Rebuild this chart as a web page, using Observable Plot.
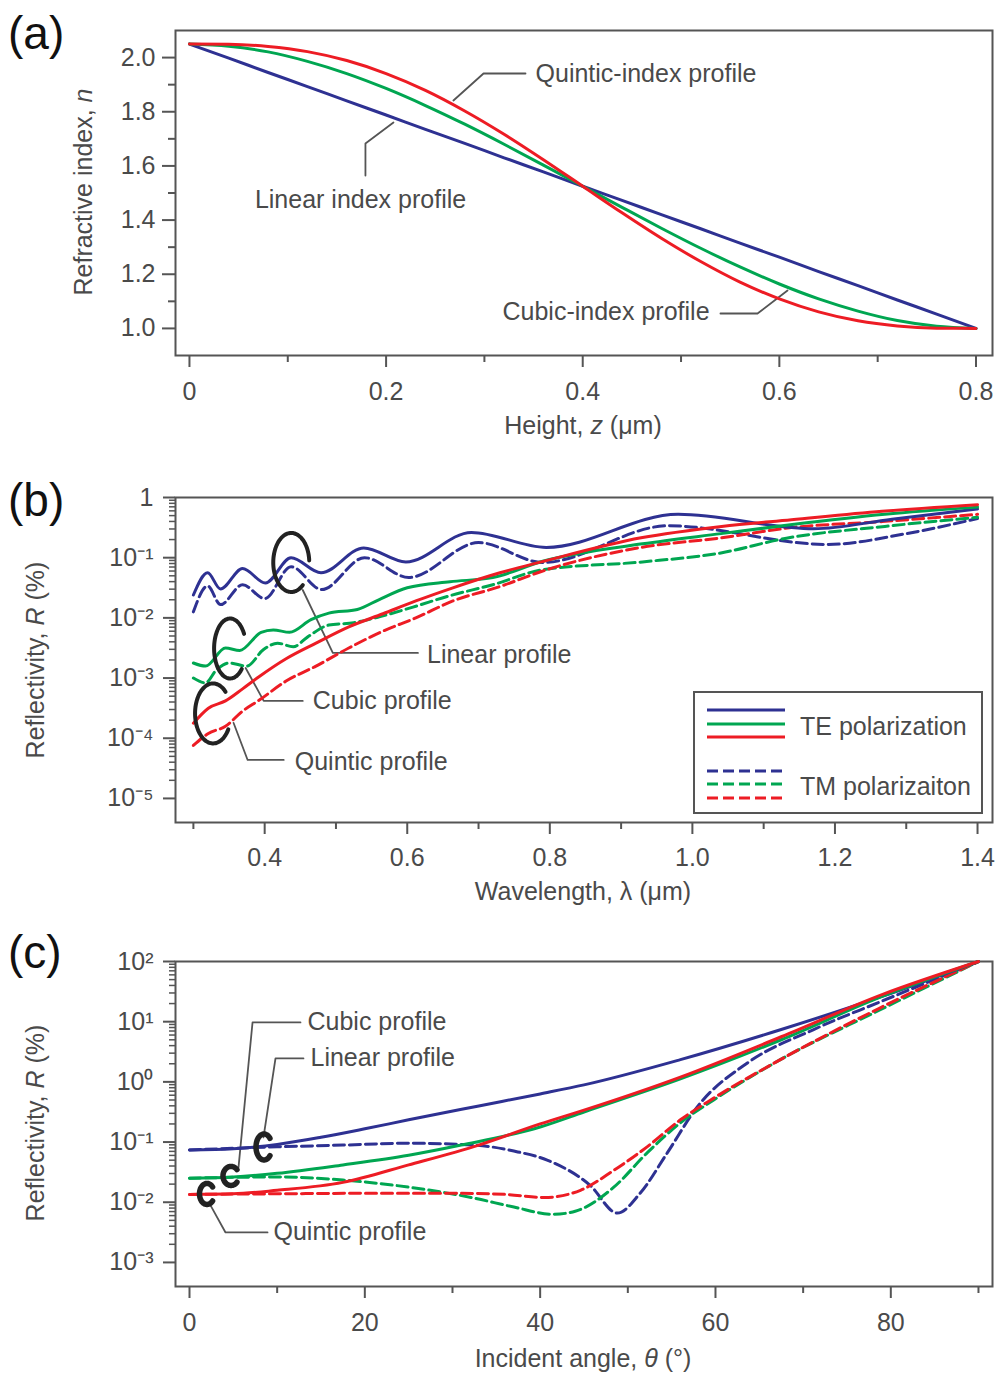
<!DOCTYPE html>
<html>
<head>
<meta charset="utf-8">
<script src="https://cdn.jsdelivr.net/npm/d3@7"></script>
<script src="https://cdn.jsdelivr.net/npm/@observablehq/plot@0.6"></script>
<style>
  body { margin: 0; background: #fff; }
  #fig { position: relative; width: 998px; height: 1376px; overflow: hidden; background: #fff; }
  #fig svg { position: absolute; left: 0; }
</style>
</head>
<body>
<div id="fig"></div>
<script>
// ---------- (a) refractive-index profiles ----------
const heightZ = [0, 0.04, 0.08, 0.12, 0.16, 0.2, 0.24, 0.28, 0.32, 0.36, 0.4,
                 0.44, 0.48, 0.52, 0.56, 0.6, 0.64, 0.68, 0.72, 0.76, 0.8];
const linearN  = [2.050, 1.998, 1.945, 1.893, 1.840, 1.788, 1.735, 1.683, 1.630, 1.578, 1.525,
                  1.473, 1.420, 1.368, 1.315, 1.263, 1.210, 1.158, 1.105, 1.053, 1.000];
const cubicN   = [2.050, 2.042, 2.021, 1.986, 1.941, 1.886, 1.823, 1.754, 1.680, 1.603, 1.525,
                  1.447, 1.370, 1.296, 1.227, 1.164, 1.109, 1.064, 1.029, 1.008, 1.000];
const quinticN = [2.050, 2.049, 2.041, 2.022, 1.989, 1.941, 1.879, 1.803, 1.717, 1.623, 1.525,
                  1.427, 1.333, 1.247, 1.171, 1.109, 1.061, 1.028, 1.009, 1.001, 1.000];
const zTicks = [0, 0.2, 0.4, 0.6, 0.8];
const zTickLabels = ["0", "0.2", "0.4", "0.6", "0.8"];
const zMinor = [0.1, 0.3, 0.5, 0.7];
const nTicks = [1.0, 1.2, 1.4, 1.6, 1.8, 2.0];
const nTickLabels = ["1.0", "1.2", "1.4", "1.6", "1.8", "2.0"];
const nMinor = [1.1, 1.3, 1.5, 1.7, 1.9];

// ---------- (b) reflectivity vs wavelength (R in %) ----------
const wlLinTE = [0.300, 0.320, 0.338, 0.369, 0.401, 0.437, 0.479, 0.539, 0.598, 0.690, 0.795, 0.980, 1.170, 1.280, 1.400];
const rLinTE  = [0.0240, 0.0562, 0.0302, 0.0661, 0.0380, 0.100, 0.0562, 0.145, 0.0851, 0.263, 0.148, 0.525, 0.302, 0.437, 0.646];
const wlLinTM = [0.300, 0.320, 0.338, 0.369, 0.400, 0.437, 0.480, 0.540, 0.602, 0.700, 0.790, 0.966, 1.190, 1.300, 1.400];
const rLinTM  = [0.0126, 0.0339, 0.0166, 0.0355, 0.0209, 0.0708, 0.0295, 0.100, 0.0468, 0.178, 0.0832, 0.339, 0.166, 0.251, 0.447];
const wlCubTE = [0.300, 0.317, 0.345, 0.365, 0.395, 0.412, 0.435, 0.465, 0.490, 0.530, 0.560, 0.600, 0.660, 0.720, 0.790, 0.930, 1.040, 1.140, 1.270, 1.400];
const rCubTE  = [0.00178, 0.00158, 0.00316, 0.00288, 0.00575, 0.00631, 0.00575, 0.00933, 0.0120, 0.0138, 0.0200, 0.0316, 0.0398, 0.0468, 0.0871, 0.170, 0.251, 0.355, 0.525, 0.692];
const wlCubTM = [0.300, 0.317, 0.332, 0.350, 0.375, 0.398, 0.418, 0.440, 0.460, 0.490, 0.525, 0.562, 0.608, 0.660, 0.720, 0.790, 0.930, 1.040, 1.130, 1.270, 1.400];
const rCubTM  = [0.00100, 0.000832, 0.00135, 0.00178, 0.00158, 0.00295, 0.00380, 0.00331, 0.00479, 0.00759, 0.00832, 0.0105, 0.0151, 0.0234, 0.0355, 0.0631, 0.0851, 0.120, 0.209, 0.331, 0.468];
const wlQuiTE = [0.300, 0.321, 0.345, 0.369, 0.392, 0.430, 0.472, 0.518, 0.566, 0.612, 0.664, 0.730, 0.788, 0.928, 1.041, 1.139, 1.266, 1.400];
const rQuiTE  = [0.000178, 0.000316, 0.000417, 0.000661, 0.00105, 0.00209, 0.00380, 0.00708, 0.0117, 0.0191, 0.0316, 0.0562, 0.0851, 0.214, 0.331, 0.427, 0.589, 0.759];
const wlQuiTM = [0.300, 0.321, 0.345, 0.369, 0.392, 0.430, 0.472, 0.518, 0.566, 0.612, 0.664, 0.730, 0.788, 0.928, 1.041, 1.139, 1.266, 1.400];
const rQuiTM  = [0.0000759, 0.000120, 0.000158, 0.000282, 0.000427, 0.000891, 0.00158, 0.00316, 0.00603, 0.0100, 0.0191, 0.0331, 0.0589, 0.148, 0.214, 0.316, 0.398, 0.525];
const wlTicks = [0.4, 0.6, 0.8, 1.0, 1.2, 1.4];
const wlTickLabels = ["0.4", "0.6", "0.8", "1.0", "1.2", "1.4"];
const wlMinor = [0.3, 0.5, 0.7, 0.9, 1.1, 1.3];
const rTicksB = [1e-5, 1e-4, 1e-3, 1e-2, 1e-1, 1];
const rTickLabelsB = ["10⁻⁵", "10⁻⁴", "10⁻³", "10⁻²", "10⁻¹", "1"];
const decadesB = [1e-5, 1e-4, 1e-3, 1e-2, 1e-1];

// ---------- (c) reflectivity vs incident angle (R in %) ----------
const angLinTE = [0, 5, 10, 15, 20, 25, 33, 40, 45, 56, 67.5, 79, 90];
const rAngLinTE = [0.0741, 0.0776, 0.0912, 0.120, 0.166, 0.234, 0.398, 0.631, 0.891, 2.34, 7.41, 26.3, 100];
const angLinTM = [0, 10, 17.5, 25, 32.5, 37, 40.8, 45.7, 48.8, 51.4, 54.5, 57.9, 63.7, 71.2, 78.8, 90];
const rAngLinTM = [0.0741, 0.0832, 0.0891, 0.0955, 0.0891, 0.0708, 0.0501, 0.0191, 0.00661, 0.0141, 0.0661, 0.380, 2.09, 7.41, 21.4, 100];
const angCubTE = [0, 5, 10, 17.5, 25, 31, 40, 45, 56, 67.5, 79, 90];
const rAngCubTE = [0.0251, 0.0263, 0.0302, 0.0417, 0.0603, 0.0891, 0.178, 0.316, 1.12, 5.01, 26.3, 100];
const angCubTM = [0, 10, 17.5, 25, 32.5, 37, 41.5, 44, 48.4, 52.2, 56, 59.8, 67.4, 78.8, 90];
const rAngCubTM = [0.0251, 0.0263, 0.0234, 0.0178, 0.0117, 0.00832, 0.00631, 0.00708, 0.0178, 0.0661, 0.209, 0.501, 2.34, 15.8, 100];
const angQuiTE = [0, 5, 10, 17.5, 25, 33, 40, 45, 56, 67.5, 79, 90];
const rAngQuiTE = [0.0135, 0.0138, 0.0158, 0.0214, 0.0417, 0.0891, 0.200, 0.339, 1.20, 5.62, 28.2, 100];
const angQuiTM = [0, 10, 20, 30, 36, 40.5, 44.6, 48.4, 52.2, 56, 59.8, 67.4, 78.8, 90];
const rAngQuiTM = [0.0135, 0.0138, 0.0141, 0.0141, 0.0135, 0.0120, 0.0158, 0.0339, 0.0832, 0.234, 0.537, 2.34, 17.0, 100];
const angTicks = [0, 20, 40, 60, 80];
const angTickLabels = ["0", "20", "40", "60", "80"];
const angMinor = [10, 30, 50, 70, 90];
const rTicksC = [1e-3, 1e-2, 1e-1, 1, 10, 100];
const rTickLabelsC = ["10⁻³", "10⁻²", "10⁻¹", "10⁰", "10¹", "10²"];
const decadesC = [1e-3, 1e-2, 1e-1, 1, 10];

// ---------- annotations (positions in data units; log panels use exponents) ----------
const notesA = [
  {text: "Quintic-index profile", x: 0.352, y: 1.941, anchor: "start"},
  {text: "Linear index profile", x: 0.174, y: 1.476, anchor: "middle"},
  {text: "Cubic-index profile", x: 0.529, y: 1.059, anchor: "end"}
];
const leadersA = [
  [[0.2685, 1.8415], [0.2991, 1.9412], [0.3418, 1.9412]],
  [[0.2075, 1.7603], [0.1790, 1.6828], [0.1790, 1.5646]],
  [[0.6083, 1.1399], [0.5778, 1.0550], [0.5401, 1.0550]]
];
const notesB = [
  {text: "Linear profile", x: 0.6277, e: -2.616, anchor: "start"},
  {text: "Cubic profile", x: 0.4675, e: -3.38, anchor: "start"},
  {text: "Quintic profile", x: 0.4422, e: -4.394, anchor: "start"}
];
const leadersB = [
  [[0.4534, -1.537], [0.4956, -2.583], [0.6150, -2.583]],
  [[0.3733, -2.832], [0.3986, -3.380], [0.4534, -3.380]],
  [[0.3564, -3.746], [0.3761, -4.361], [0.4267, -4.361]]
];
const loopsB = [
  {x: 0.438, e: -1.088, rx: 18, ry: 29.5, a0: 50, a1: 358},
  {x: 0.3522, e: -2.517, rx: 16, ry: 30, a0: 43, a1: 332},
  {x: 0.3283, e: -3.596, rx: 18, ry: 30, a0: 32, a1: 314}
];
const notesC = [
  {text: "Cubic profile", x: 13.46, e: 0.987, anchor: "start"},
  {text: "Linear profile", x: 13.8, e: 0.389, anchor: "start"},
  {text: "Quintic profile", x: 9.58, e: -2.502, anchor: "start"}
];
const leadersC = [
  [[5.59, -1.422], [7.19, 0.987], [12.66, 0.987]],
  [[8.44, -0.924], [9.81, 0.389], [13.0, 0.389]],
  [[2.40, -2.053], [4.11, -2.502], [8.90, -2.502]]
];
const loopsC = [
  {x: 8.556, e: -1.09, rx: 8, ry: 13, a0: 42, a1: 318},
  {x: 4.79, e: -1.571, rx: 8, ry: 9.5, a0: 42, a1: 318},
  {x: 2.053, e: -1.87, rx: 7.5, ry: 10.5, a0: 42, a1: 318}
];

// ---------- styling ----------
const W = 998;
const FONT = "'Liberation Sans', Arial, Helvetica, sans-serif";
const INK = "#4a4a4a";
const AXIS = "#555";
const BLUE = "#2e3192", GREEN = "#00a651", RED = "#ed1c24";
const DASH = "11,5";
const STYLE = {fontFamily: FONT, fontSize: "25px", color: INK, background: "transparent", overflow: "visible"};

const series = (xs, ys) => xs.map((x, i) => ({x, y: ys[i]}));
const curve = (xs, ys, stroke, dashed) =>
  Plot.line(series(xs, ys), {x: "x", y: "y", stroke, strokeWidth: 3, curve: "monotone-x",
    strokeDasharray: dashed ? DASH : null});
const minorLog = decades => decades.flatMap(d => [2, 3, 4, 5, 6, 7, 8, 9].map(k => k * d));
const leaderMark = (paths, ymap) =>
  Plot.line(paths.flatMap((pts, k) => pts.map(p => ({x: p[0], y: ymap(p[1]), k}))),
    {x: "x", y: "y", z: "k", stroke: AXIS, strokeWidth: 1.8});
// one text mark per anchor (textAnchor is a constant option)
const noteMarks = (notes, ymap) =>
  ["start", "middle", "end"].map(anchor =>
    Plot.text(notes.filter(d => d.anchor === anchor),
      {x: "x", y: d => ymap(d.y ?? d.e), text: "text", fontSize: 25, fill: INK, textAnchor: anchor}));
// open "C"-shaped loops drawn around curve groups
const loopMark = (loops, width) => (index, scales) => {
  const g = d3.create("svg:g").attr("fill", "none").attr("stroke", "#222")
    .attr("stroke-width", width).attr("stroke-linecap", "round");
  for (const l of loops) {
    const cx = scales.x(l.x), cy = scales.y(10 ** l.e);
    const pts = d3.range(l.a0, l.a1 + 0.01, 3).map(a => {
      const t = a * Math.PI / 180;
      return [cx + l.rx * Math.cos(t), cy + l.ry * Math.sin(t)];
    });
    g.append("path").attr("d", d3.line().curve(d3.curveCatmullRom)(pts));
  }
  return g.node();
};
const labelFor = (ticks, labels) => d => labels[ticks.indexOf(d)];
const pow10 = e => 10 ** e;
const ident = v => v;

// ---------- panel (a) ----------
const panelA = Plot.plot({
  width: W, height: 460, marginLeft: 175, marginRight: 6, marginTop: 30, marginBottom: 105,
  style: STYLE,
  x: {domain: [-0.0142, 0.8168], label: null},
  y: {domain: [0.9, 2.1], label: null},
  marks: [
    Plot.frame({stroke: AXIS, strokeWidth: 2}),
    Plot.axisX({ticks: zTicks, tickSize: 12, tickPadding: 15, fontSize: 25, stroke: AXIS, strokeWidth: 2,
      tickFormat: labelFor(zTicks, zTickLabels), label: null}),
    Plot.axisX({ticks: zMinor, tickSize: 7, stroke: AXIS, strokeWidth: 2, tickFormat: () => "", label: null}),
    Plot.axisY({ticks: nTicks, tickSize: 13, tickPadding: 7, fontSize: 25, stroke: AXIS, strokeWidth: 2,
      tickFormat: labelFor(nTicks, nTickLabels), label: null}),
    Plot.axisY({ticks: nMinor, tickSize: 7, stroke: AXIS, strokeWidth: 2, tickFormat: () => "", label: null}),
    leaderMark(leadersA, ident),
    ...noteMarks(notesA, ident),
    curve(heightZ, linearN, BLUE),
    curve(heightZ, cubicN, GREEN),
    curve(heightZ, quinticN, RED)
  ]
});

// ---------- panel (b) ----------
const panelB = Plot.plot({
  width: W, height: 460, marginLeft: 175, marginRight: 6, marginTop: 37, marginBottom: 98,
  style: STYLE,
  x: {domain: [0.2749, 1.421], label: null},
  y: {type: "log", domain: [10 ** -5.4, 1], label: null},
  marks: [
    Plot.frame({stroke: AXIS, strokeWidth: 2}),
    Plot.axisX({ticks: wlTicks, tickSize: 12, tickPadding: 14, fontSize: 25, stroke: AXIS, strokeWidth: 2,
      tickFormat: labelFor(wlTicks, wlTickLabels), label: null}),
    Plot.axisX({ticks: wlMinor, tickSize: 7, stroke: AXIS, strokeWidth: 2, tickFormat: () => "", label: null}),
    Plot.axisY({ticks: rTicksB, tickSize: 12, tickPadding: 10, fontSize: 25, stroke: AXIS, strokeWidth: 2,
      tickFormat: labelFor(rTicksB, rTickLabelsB), label: null}),
    Plot.axisY({ticks: minorLog(decadesB), tickSize: 6, stroke: AXIS, strokeWidth: 1.5, tickFormat: () => "", label: null}),
    leaderMark(leadersB, pow10),
    ...noteMarks(notesB, pow10),
    curve(wlLinTM, rLinTM, BLUE, true),
    curve(wlCubTM, rCubTM, GREEN, true),
    curve(wlQuiTM, rQuiTM, RED, true),
    curve(wlLinTE, rLinTE, BLUE),
    curve(wlCubTE, rCubTE, GREEN),
    curve(wlQuiTE, rQuiTE, RED),
    loopMark(loopsB, 4)
  ]
});

// ---------- panel (c) ----------
const panelC = Plot.plot({
  width: W, height: 456, marginLeft: 175, marginRight: 6, marginTop: 41, marginBottom: 90,
  style: STYLE,
  x: {domain: [-1.597, 91.6], label: null},
  y: {type: "log", domain: [10 ** -3.4, 100], label: null},
  marks: [
    Plot.frame({stroke: AXIS, strokeWidth: 2}),
    Plot.axisX({ticks: angTicks, tickSize: 12, tickPadding: 15, fontSize: 25, stroke: AXIS, strokeWidth: 2,
      tickFormat: labelFor(angTicks, angTickLabels), label: null}),
    Plot.axisX({ticks: angMinor, tickSize: 7, stroke: AXIS, strokeWidth: 2, tickFormat: () => "", label: null}),
    Plot.axisY({ticks: rTicksC, tickSize: 12, tickPadding: 10, fontSize: 25, stroke: AXIS, strokeWidth: 2,
      tickFormat: labelFor(rTicksC, rTickLabelsC), label: null}),
    Plot.axisY({ticks: minorLog(decadesC), tickSize: 6, stroke: AXIS, strokeWidth: 1.5, tickFormat: () => "", label: null}),
    leaderMark(leadersC, pow10),
    ...noteMarks(notesC, pow10),
    curve(angLinTM, rAngLinTM, BLUE, true),
    curve(angCubTM, rAngCubTM, GREEN, true),
    curve(angQuiTM, rAngQuiTM, RED, true),
    curve(angLinTE, rAngLinTE, BLUE),
    curve(angCubTE, rAngCubTE, GREEN),
    curve(angQuiTE, rAngQuiTE, RED),
    loopMark(loopsC, 5.5)
  ]
});

// ---------- assemble ----------
const fig = document.getElementById("fig");
[[panelA, 0], [panelB, 460], [panelC, 920]].forEach(([svg, top]) => {
  svg.style.top = top + "px";
  fig.appendChild(svg);
});

// axis titles with italic symbols, panel letters
function title(svg, x, y, parts, rotate) {
  const t = d3.select(svg).append("text")
    .attr("text-anchor", "middle").attr("font-family", FONT).attr("font-size", 25).attr("fill", INK)
    .attr("transform", rotate ? `translate(${x},${y}) rotate(-90)` : `translate(${x},${y})`);
  for (const [s, it] of parts) {
    const sp = t.append("tspan").text(s);
    if (it) sp.attr("font-style", "italic");
  }
}
function letter(svg, s, y) {
  d3.select(svg).append("text").attr("x", 8).attr("y", y).attr("text-anchor", "start")
    .attr("font-family", FONT).attr("font-size", 46).attr("fill", "#111").text(s);
}

title(panelA, 583, 434, [["Height, "], ["z", true], [" (μm)"]]);
title(panelA, 92, 192, [["Refractive index, "], ["n", true]], true);
letter(panelA, "(a)", 49);

title(panelB, 583, 440, [["Wavelength, λ (μm)"]]);
title(panelB, 44, 200, [["Reflectivity, "], ["R", true], [" (%)"]], true);
letter(panelB, "(b)", 56);

title(panelC, 583, 447, [["Incident angle, "], ["θ", true], [" (°)"]]);
title(panelC, 44, 203, [["Reflectivity, "], ["R", true], [" (%)"]], true);
letter(panelC, "(c)", 48);

// legend for panel (b)
const legendRows = [
  {label: "TE polarization", dashed: false, ys: [250, 264, 277], ty: 275},
  {label: "TM polarizaiton", dashed: true, ys: [311, 324, 338], ty: 335}
];
const legendColors = [BLUE, GREEN, RED];
const lg = d3.select(panelB).append("g");
lg.append("rect").attr("x", 694).attr("y", 232).attr("width", 288).attr("height", 121)
  .attr("fill", "white").attr("stroke", AXIS).attr("stroke-width", 2);
for (const row of legendRows) {
  row.ys.forEach((y, i) => {
    lg.append("line").attr("x1", 707).attr("x2", 785).attr("y1", y).attr("y2", y)
      .attr("stroke", legendColors[i]).attr("stroke-width", 3)
      .attr("stroke-dasharray", row.dashed ? DASH : null);
  });
  lg.append("text").attr("x", 800).attr("y", row.ty).attr("text-anchor", "start").attr("font-family", FONT)
    .attr("font-size", 25).attr("fill", INK).text(row.label);
}
</script>
</body>
</html>
